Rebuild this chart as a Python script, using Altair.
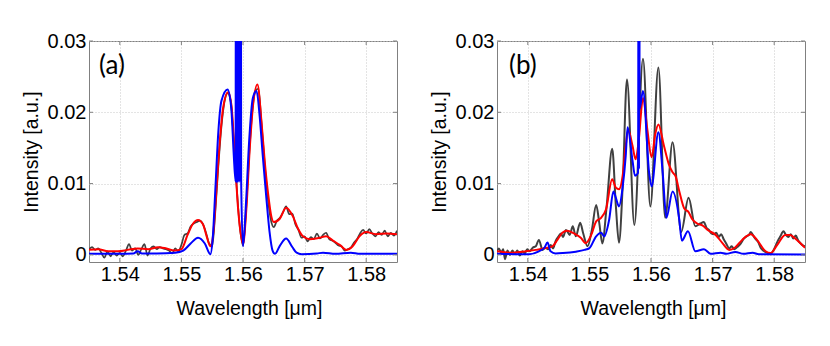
import altair as alt
import pandas as pd

# ---------------- data (intensity in units of 1e-3 a.u.) ----------------
# Panel (a)
A_GRAY_WL = [1.5350, 1.5355, 1.5360, 1.5365, 1.5370, 1.5375, 1.5380, 1.5385, 1.5390, 1.5395,
             1.5400, 1.5405, 1.5410, 1.5415, 1.5420, 1.5425, 1.5430, 1.5435, 1.5440, 1.5445,
             1.5450, 1.5455, 1.5460, 1.5465, 1.5470, 1.5475, 1.5480, 1.5485, 1.5490, 1.5495,
             1.5500, 1.5505, 1.5510, 1.5515, 1.5520, 1.5525, 1.5530, 1.5535, 1.5540, 1.5545,
             1.5550, 1.5555, 1.5560, 1.5565, 1.5570, 1.5575, 1.5580, 1.5585, 1.5590, 1.5595,
             1.5600, 1.5605, 1.5610, 1.5615, 1.5620, 1.5625, 1.5630, 1.5635, 1.5640, 1.5645,
             1.5650, 1.5655, 1.5660, 1.5665, 1.5670, 1.5675, 1.5680, 1.5685, 1.5690, 1.5695,
             1.5700, 1.5705, 1.5710, 1.5715, 1.5720, 1.5725, 1.5730, 1.5735, 1.5740, 1.5745,
             1.5750, 1.5755, 1.5760, 1.5765, 1.5770, 1.5775, 1.5780, 1.5785, 1.5790, 1.5795,
             1.5800, 1.5805, 1.5810, 1.5815, 1.5820, 1.5825, 1.5830, 1.5835, 1.5840, 1.5845,
             1.5850]
A_GRAY_I = [0.8, 1.1, 0.7, 0.9, 0.3, -0.4, 0.5, -0.2, 0.4, -0.1,
            0.3, -0.2, 0.6, 1.5, 0.6, 0.9, 0.0, 0.8, 1.5, -0.1,
            0.9, 1.2, 0.8, 1.1, 0.9, 0.8, 0.6, 0.2, 0.9, 0.5,
            1.4, 2.8, 3.0, 4.0, 4.4, 4.6, 4.8, 4.3, 3.1, 1.6,
            1.2, 6.0, 12.5, 18.0, 21.5, 22.7, 21.6, 16.0, 9.2, 3.8,
            1.3, 6.3, 14.0, 20.0, 23.0, 23.3, 18.5, 13.0, 8.2, 5.0,
            3.9, 4.8, 5.2, 6.0, 6.8, 5.7, 5.8, 4.3, 3.5, 2.4,
            2.6, 1.9, 2.5, 2.2, 3.0, 2.3, 2.8, 3.1, 2.2, 2.0,
            1.7, 1.3, 1.2, 0.6, 0.8, 1.0, 1.7, 2.2, 3.0, 3.5,
            3.0, 3.6, 3.0, 2.6, 3.2, 2.8, 3.4, 2.6, 3.1, 2.7,
            3.4]
A_RED_WL = [1.5350, 1.5365, 1.5381, 1.5397, 1.5413, 1.5429, 1.5446, 1.5462, 1.5473, 1.5489,
            1.5500, 1.5510, 1.5519, 1.5527, 1.5535, 1.5541, 1.5547, 1.55515, 1.5557, 1.55623,
            1.55677, 1.55758, 1.55812, 1.55866, 1.5592, 1.55958, 1.5600, 1.56055, 1.5611, 1.56163,
            1.56234, 1.5630, 1.56353, 1.5641, 1.5646, 1.5650, 1.5660, 1.5670, 1.5681, 1.56892,
            1.56973, 1.5708, 1.5724, 1.5735, 1.5746, 1.5757, 1.5768, 1.5778, 1.5789, 1.5800,
            1.5816, 1.5833, 1.5850]
A_RED_I = [0.7, 0.8, 0.5, 0.5, 0.7, 0.9, 0.8, 1.07, 0.95, 0.6,
           0.8, 2.8, 4.4, 4.9, 4.3, 2.6, 1.2, 2.8, 9.3, 15.9,
           20.6, 22.8, 21.0, 14.0, 6.5, 3.3, 1.5, 6.5, 15.0, 21.0,
           23.9, 18.7, 13.1, 8.4, 5.4, 4.6, 5.1, 6.6, 5.4, 3.7,
           2.6, 2.2, 2.4, 2.6, 2.0, 1.4, 0.7, 1.2, 2.6, 3.2,
           2.9, 3.0, 2.9]
A_BLUE_WL = [1.5350, 1.5400, 1.5422, 1.5429, 1.5436, 1.5460, 1.5490, 1.5503, 1.5515, 1.5527,
             1.5538, 1.5547, 1.5551, 1.5555, 1.5560, 1.5565, 1.5575, 1.5581, 1.5585, 1.5588,
             1.55885, 1.5589, 1.55895, 1.5590, 1.55905, 1.5591, 1.55915, 1.5592, 1.55925, 1.5593,
             1.55935, 1.5594, 1.55945, 1.5595, 1.55955, 1.5596, 1.55965, 1.5597,
             1.5600, 1.5605, 1.5610, 1.5616, 1.5622, 1.5627, 1.5632, 1.5638, 1.5643, 1.5648,
             1.5652, 1.5660, 1.5670, 1.5680, 1.5687, 1.5695, 1.5720, 1.5730, 1.5750, 1.5775,
             1.5790, 1.5850]
A_BLUE_I = [0.15, 0.15, 0.2, 0.5, 0.2, 0.2, 0.3, 0.6, 1.6, 2.4,
            1.6, 0.1, 2.5, 9.0, 17.3, 21.6, 23.2, 20.5, 14.0, 10.3,
            60.0, 10.1, 60.0, 10.2, 60.0, 10.1, 60.0, 10.3, 60.0, 10.4,
            60.0, 10.2, 60.0, 10.5, 60.0, 10.4, 60.0, 10.5,
            1.2, 7.5, 16.0, 22.0, 23.0, 19.5, 14.0, 7.9, 3.3, 0.6,
            0.15, 1.3, 2.3, 1.1, 0.3, 0.1, 0.2, 0.3, 0.15, 0.3,
            0.15, 0.15]

# Panel (b)
B_GRAY_WL = [1.5350, 1.5353, 1.5357, 1.5360, 1.5363, 1.5367, 1.5371, 1.5375, 1.5379, 1.5383,
             1.5387, 1.5391, 1.5395, 1.5399, 1.5403, 1.5408, 1.5413, 1.5418, 1.5424, 1.5428,
             1.5433, 1.5437, 1.5441, 1.5445, 1.5450, 1.5454, 1.5457, 1.5462, 1.5468, 1.5473,
             1.5478, 1.5485, 1.5490, 1.5497, 1.5504, 1.5511, 1.5516, 1.5521, 1.5528, 1.5537,
             1.5543, 1.5548, 1.5554, 1.5561, 1.5573, 1.5587, 1.5599, 1.5612, 1.5623, 1.5635,
             1.5649, 1.5661, 1.5672, 1.5680, 1.5686, 1.5690, 1.5694, 1.5698, 1.5702, 1.5706,
             1.5710, 1.5714, 1.5718, 1.5722, 1.5727, 1.5731, 1.5735, 1.5740, 1.5745, 1.5750,
             1.5755, 1.5759, 1.5762, 1.5766, 1.5770, 1.5774, 1.5778, 1.5782, 1.5786, 1.5790,
             1.5794, 1.5798, 1.5802, 1.5806, 1.5810, 1.5815, 1.5819, 1.5823, 1.5827, 1.5831,
             1.5835, 1.5839, 1.5843, 1.5847, 1.5850]
B_GRAY_I = [0.5, 0.9, 0.3, 0.8, -0.6, 0.6, 0.0, 0.6, 0.1, 0.6,
            -0.1, 0.5, 0.2, 0.8, 0.5, 1.0, 1.2, 2.1, 0.7, 1.0,
            0.8, 1.4, 0.9, 1.9, 2.6, 3.0, 2.5, 3.5, 2.8, 4.0,
            2.6, 4.5, 3.0, 1.2, 3.5, 7.0, 4.5, 1.6, 6.8, 14.9,
            6.8, 1.7, 9.6, 24.6, 4.2, 27.5, 6.8, 26.3, 5.2, 15.8,
            3.2, 8.0, 4.0, 4.4, 4.6, 3.8, 3.5, 3.0, 2.9, 3.1,
            2.5, 2.9, 2.2, 1.6, 0.9, 1.2, 0.8, 1.1, 1.5, 2.2,
            2.6, 2.8, 3.2, 2.7, 2.2, 1.8, 1.0, 0.6, 0.4, 0.2,
            0.1, 0.5, 1.2, 2.0, 2.6, 3.3, 2.8, 2.5, 2.9, 2.3,
            2.7, 2.0, 1.6, 1.3, 1.2]
B_RED_WL = [1.5350, 1.5370, 1.5397, 1.5413, 1.5429, 1.5440, 1.5448, 1.5456, 1.5464, 1.5475,
            1.5486, 1.5494, 1.5503, 1.5511, 1.5519, 1.5527, 1.5537, 1.5543, 1.5548, 1.5554,
            1.5559, 1.5563, 1.5570, 1.5575, 1.5580, 1.5587, 1.5594, 1.5601, 1.5607, 1.5612,
            1.5621, 1.5629, 1.5635, 1.5640, 1.5646, 1.5654, 1.5661, 1.5667, 1.5675, 1.5684,
            1.5692, 1.5705, 1.5716, 1.5727, 1.5736, 1.5748, 1.5762, 1.5772, 1.5786, 1.5794,
            1.5805, 1.5818, 1.5826, 1.5834, 1.5843, 1.5850]
B_RED_I = [0.5, 0.3, 0.5, 0.7, 0.95, 1.2, 2.1, 3.1, 3.4, 3.0,
           2.4, 1.65, 2.8, 4.7, 5.2, 6.4, 10.6, 9.4, 9.2, 11.1,
           15.3, 17.5, 15.3, 13.4, 16.0, 22.0, 17.6, 13.7, 17.0, 18.3,
           15.3, 12.7, 11.6, 11.0, 8.9, 6.5, 6.0, 5.0, 4.4, 4.1,
           3.5, 2.8, 1.65, 0.7, 1.0, 2.1, 2.9, 2.1, 0.5, 0.25,
           1.4, 2.8, 2.8, 2.3, 1.6, 1.0]
B_BLUE_WL = [1.5350, 1.5380, 1.5402, 1.5418, 1.5427, 1.5432, 1.5437, 1.5445, 1.5457, 1.5478,
             1.5492, 1.5500, 1.5511, 1.5519, 1.5524, 1.5532, 1.5539, 1.5543, 1.5548, 1.5554,
             1.5559, 1.5562, 1.5570, 1.5574, 1.5579, 1.55800, 1.55805, 1.55810, 1.55815, 1.5587,
             1.5597, 1.5601, 1.5612, 1.5619, 1.5625, 1.5635, 1.5646, 1.5650, 1.5660, 1.5672,
             1.5686, 1.5697, 1.5713, 1.5722, 1.5737, 1.5750, 1.5765, 1.5775, 1.5850]
B_BLUE_I = [0.15, 0.1, 0.1, 0.5, 1.0, 1.75, 0.5, 0.2, 0.25, 0.45,
            0.7, 0.95, 2.6, 3.1, 2.6, 4.9, 8.9, 8.0, 6.8, 9.5,
            13.9, 17.9, 13.2, 11.1, 11.5, 60.0, 12.0, 60.0, 20.5, 23.0,
            11.5, 9.6, 17.2, 11.5, 5.2, 8.9, 4.9, 2.0, 3.3, 0.5,
            0.8, 0.15, 0.3, 0.15, 0.4, 0.15, 0.3, 0.1, 0.05]

X_TICKS = [1.54, 1.55, 1.56, 1.57, 1.58]
Y_TICKS = [0.0, 0.01, 0.02, 0.03]
PANEL_LABELS = ["(a)", "(b)"]

# ---------------- chart ----------------
W, H = 308, 221
TICK_LEN = 4
FRAME = "#808080"


def x_enc(title_x):
    return alt.X("wl:Q",
                 scale=alt.Scale(domain=[1.535, 1.585], nice=False, zero=False),
                 axis=alt.Axis(values=X_TICKS, format=".2f", title="Wavelength [μm]",
                               labelPadding=2, titlePadding=15, titleX=title_x))


Y_ENC = alt.Y("val:Q",
              scale=alt.Scale(domain=[-0.001, 0.03], nice=False, zero=False),
              axis=alt.Axis(values=Y_TICKS,
                            labelExpr="datum.value == 0 ? '0' : format(datum.value, '.2f')",
                            title="Intensity [a.u.]", labelPadding=3, titlePadding=6))


def series(wl, vals):
    return pd.DataFrame({"wl": wl, "val": [v / 1000.0 for v in vals]})


def line(df, color, width, xe):
    return alt.Chart(df).mark_line(color=color, strokeWidth=width,
                                   interpolate="monotone", clip=True).encode(x=xe, y=Y_ENC)


def ticks(xe):
    xt = pd.DataFrame({"wl": X_TICKS})
    yt = pd.DataFrame({"val": Y_TICKS})
    bottom = alt.Chart(xt).mark_rule(color=FRAME, strokeWidth=1).encode(
        x=xe, y=alt.value(H), y2=alt.value(H - TICK_LEN))
    top = alt.Chart(xt).mark_rule(color=FRAME, strokeWidth=1).encode(
        x=xe, y=alt.value(0), y2=alt.value(TICK_LEN))
    left = alt.Chart(yt).mark_rule(color=FRAME, strokeWidth=1).encode(
        y=Y_ENC, x=alt.value(0), x2=alt.value(TICK_LEN))
    right = alt.Chart(yt).mark_rule(color=FRAME, strokeWidth=1).encode(
        y=Y_ENC, x=alt.value(W), x2=alt.value(W - TICK_LEN))
    return [bottom, top, left, right]


def label(text, dx):
    return alt.Chart(pd.DataFrame({"label": [text]})).mark_text(
        font="Lato", fontSize=26, align="left", baseline="alphabetic", color="black"
    ).encode(text="label:N", x=alt.value(dx), y=alt.value(33))


def panel(gwl, gi, rwl, ri, bwl, bi, text, dx, gray_w, title_x):
    xe = x_enc(title_x)
    layers = [line(series(gwl, gi), "#404040", gray_w, xe),
              line(series(rwl, ri), "#ff0000", 2, xe),
              line(series(bwl, bi), "#0000ff", 2, xe)]
    layers += ticks(xe)
    layers.append(label(text, dx))
    return alt.layer(*layers).properties(width=W, height=H)


pa = panel(A_GRAY_WL, A_GRAY_I, A_RED_WL, A_RED_I, A_BLUE_WL, A_BLUE_I,
           PANEL_LABELS[0], 10, 1.7, 160)
pb = panel(B_GRAY_WL, B_GRAY_I, B_RED_WL, B_RED_I, B_BLUE_WL, B_BLUE_I,
           PANEL_LABELS[1], 12, 2, 156)

chart = alt.hconcat(pa, pb, spacing=30).properties(
    padding={"left": 12, "top": 22, "right": 5, "bottom": 5}
).configure_view(
    stroke=FRAME, strokeWidth=1
).configure_axis(
    grid=True, gridDash=[1, 2], gridColor="#c8c8c8", gridWidth=1,
    ticks=False, domain=False,
    labelFont="Liberation Sans", labelFontSize=20, labelColor="#000",
    titleFont="Liberation Sans", titleFontSize=19.5, titleFontWeight="normal", titleColor="#000"
)

chart.save("out.html", embed_options={"renderer": "svg", "actions": False})
